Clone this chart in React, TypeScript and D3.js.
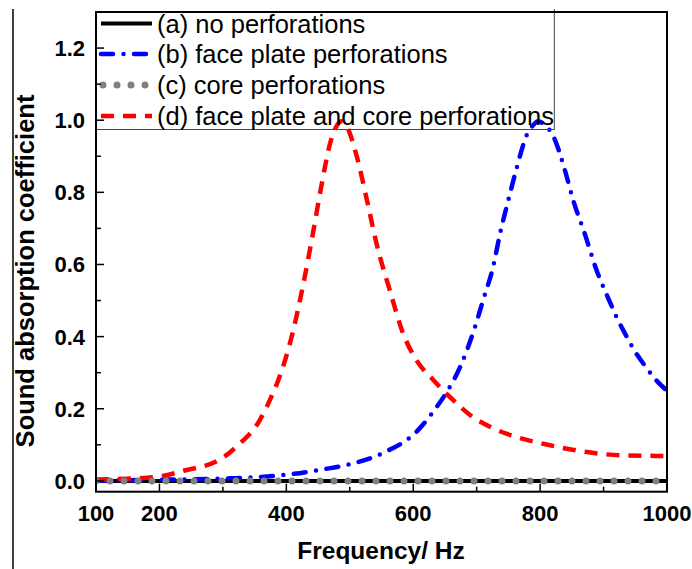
import React from "react";
import * as d3 from "d3";

// Frequency axis (Hz) and absorption values for each configuration
const freqNoPerf = [100, 1000];
const valNoPerf = [0, 0];

const freqFace = [100, 200, 311, 395, 458, 500, 553, 605, 637, 648, 674, 695, 711, 726, 737, 750, 763, 779, 790, 797, 805, 821, 839, 852, 871, 887, 909, 921, 934, 947, 967, 981, 1000];
const valFace = [0.001, 0.003, 0.007, 0.016, 0.032, 0.046, 0.078, 0.136, 0.205, 0.233, 0.316, 0.414, 0.506, 0.594, 0.687, 0.779, 0.867, 0.959, 0.988, 0.997, 0.99, 0.955, 0.862, 0.779, 0.682, 0.594, 0.5, 0.452, 0.408, 0.366, 0.315, 0.283, 0.25];

const freqCore = [100, 1000];
const valCore = [0, 0];

const freqBoth = [100, 150, 196, 238, 298, 324, 358, 374, 393, 411, 427, 442, 456, 469, 478, 487, 495, 500, 511, 527, 542, 563, 584, 605, 632, 663, 690, 721, 758, 810, 874, 926, 1000];
const valBoth = [0.004, 0.006, 0.011, 0.028, 0.062, 0.099, 0.168, 0.224, 0.307, 0.418, 0.548, 0.687, 0.825, 0.936, 0.98, 0.997, 0.985, 0.964, 0.9, 0.779, 0.659, 0.529, 0.409, 0.335, 0.279, 0.224, 0.182, 0.15, 0.124, 0.101, 0.08, 0.071, 0.069];

const legendLabels = [
  "(a) no perforations",
  "(b) face plate perforations",
  "(c) core perforations",
  "(d) face plate and core perforations",
];

const xMajorTicks = [200, 400, 600, 800, 1000];
const xMinorTicks = [300, 500, 700, 900];
const xTickLabels = [100, 200, 400, 600, 800, 1000];
const yMajorTicks = [0, 0.2, 0.4, 0.6, 0.8, 1.0, 1.2];
const yMinorTicks = [0.1, 0.3, 0.5, 0.7, 0.9, 1.1];

const W = 692;
const H = 569;
const left = 96;
const right = 667;
const top = 12;
const bottom = 491.7;

const FONT = "'Liberation Sans', Arial, Helvetica, sans-serif";

const styles = [
  { color: "#000000", width: 4, dash: undefined as string | undefined, cap: "butt" },
  { color: "#0000ff", width: 4.5, dash: "12 10.5 0 10.5", cap: "round" },
  { color: "#808080", width: 7, dash: "0 14", cap: "round" },
  { color: "#ff0000", width: 4.5, dash: "13 9", cap: "butt" },
];

export default function App() {
  const x = d3.scaleLinear().domain([100, 1000]).range([left, right]);
  const y = d3.scaleLinear().domain([-0.03, 1.3]).range([bottom, top]);

  const line = d3
    .line<[number, number]>()
    .x((d) => x(d[0]))
    .y((d) => y(d[1]))
    .curve(d3.curveMonotoneX);

  const series = [
    d3.zip(freqNoPerf, valNoPerf) as [number, number][],
    d3.zip(freqFace, valFace) as [number, number][],
    d3.zip(freqCore, valCore) as [number, number][],
    d3.zip(freqBoth, valBoth) as [number, number][],
  ];
  // drawing order: black, blue, red, then grey dots on top
  const order = [0, 1, 3, 2];

  const legendY = [23.5, 54, 85, 116];

  return (
    <svg
      width={W}
      height={H}
      style={{ position: "absolute", left: 0, top: 0, background: "#fff" }}
      fontFamily={FONT}
    >
      <rect x={0} y={0} width={W} height={H} fill="#fff" />
      <line x1={13} y1={9} x2={13} y2={H} stroke="#000" strokeWidth={1.5} />

      <defs>
        <clipPath id="plotClip">
          <rect x={left} y={top - 4} width={right - left} height={bottom - top + 4} />
        </clipPath>
      </defs>

      {/* curves */}
      <g clipPath="url(#plotClip)">
        {order.map((i) => (
          <path
            key={i}
            d={line(series[i]) || ""}
            fill="none"
            stroke={styles[i].color}
            strokeWidth={styles[i].width}
            strokeDasharray={styles[i].dash}
            strokeLinecap={styles[i].cap as any}
            strokeLinejoin="round"
          />
        ))}
      </g>

      {/* legend */}
      <g>
        <rect x={left} y={top} width={554.3 - left} height={129.5 - top} fill="none" stroke="#444" strokeWidth={1} />
        <line x1={554.3} y1={9} x2={554.3} y2={top} stroke="#444" strokeWidth={1} />
        {legendLabels.map((lab, i) => (
          <g key={lab}>
            <line
              x1={i === 2 ? 103 : 101}
              x2={152}
              y1={legendY[i]}
              y2={legendY[i]}
              stroke={styles[i].color}
              strokeWidth={styles[i].width}
              strokeDasharray={styles[i].dash}
              strokeLinecap={styles[i].cap as any}
            />
            <text x={157} y={legendY[i]} dy="0.36em" fontSize={25.5} fill="#000">
              {lab}
            </text>
          </g>
        ))}
      </g>

      {/* frame */}
      <rect x={left} y={top} width={right - left} height={bottom - top} fill="none" stroke="#000" strokeWidth={2} />

      {/* x ticks */}
      {xMajorTicks.map((t) => (
        <line key={"xM" + t} x1={x(t)} x2={x(t)} y1={bottom} y2={bottom - 8} stroke="#000" strokeWidth={1.5} />
      ))}
      {xMinorTicks.map((t) => (
        <line key={"xm" + t} x1={x(t)} x2={x(t)} y1={bottom} y2={bottom - 5} stroke="#000" strokeWidth={1.5} />
      ))}
      {xTickLabels.map((t) => (
        <text key={"xl" + t} x={x(t)} y={520.5} textAnchor="middle" fontSize={22} fontWeight="bold" fill="#000">
          {t}
        </text>
      ))}

      {/* y ticks */}
      {yMajorTicks.map((t) => (
        <line key={"yM" + t} x1={left} x2={left + 8} y1={y(t)} y2={y(t)} stroke="#000" strokeWidth={1.5} />
      ))}
      {yMinorTicks.map((t) => (
        <line key={"ym" + t} x1={left} x2={left + 5} y1={y(t)} y2={y(t)} stroke="#000" strokeWidth={1.5} />
      ))}
      {yMajorTicks.map((t) => (
        <text key={"yl" + t} x={85} y={y(t)} dy="0.36em" textAnchor="end" fontSize={22} fontWeight="bold" fill="#000">
          {d3.format(".1f")(t)}
        </text>
      ))}

      {/* axis titles */}
      <text x={381} y={558.5} textAnchor="middle" fontSize={24.5} fontWeight="bold" fill="#000">
        Frequency/ Hz
      </text>
      <text
        transform={`translate(33.5, 271) rotate(-90)`}
        textAnchor="middle"
        fontSize={25.5}
        fontWeight="bold"
        fill="#000"
      >
        Sound absorption coefficient
      </text>
    </svg>
  );
}
